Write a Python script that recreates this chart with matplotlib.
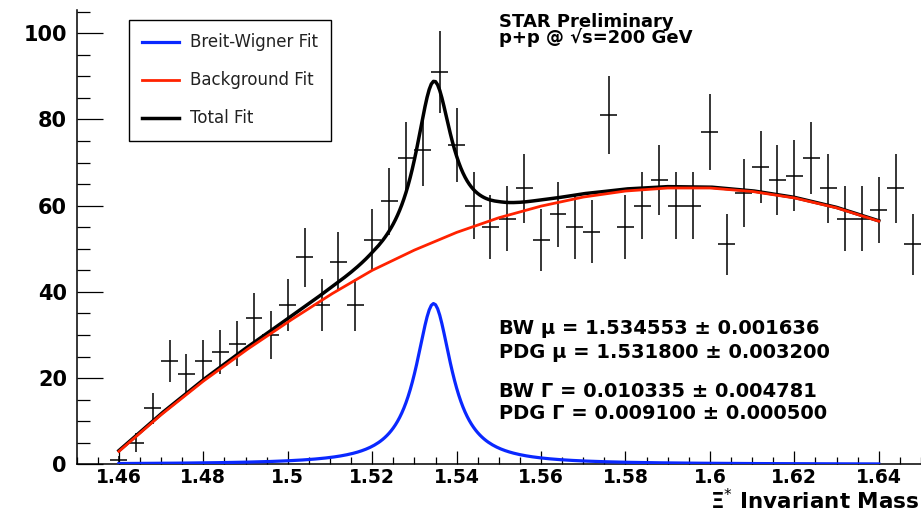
import numpy as np
import matplotlib
matplotlib.use("Agg")
import matplotlib.pyplot as plt
from matplotlib.ticker import MultipleLocator, FormatStrFormatter

plt.rcParams['font.family'] = ['DejaVu Sans']
plt.rcParams['mathtext.fontset'] = 'dejavusans'

# --- data: Xi* candidates per 4 MeV bin ---
mass = [1.460, 1.464, 1.468, 1.472, 1.476, 1.480, 1.484, 1.488, 1.492, 1.496,
        1.500, 1.504, 1.508, 1.512, 1.516, 1.520, 1.524, 1.528, 1.532, 1.536,
        1.540, 1.544, 1.548, 1.552, 1.556, 1.560, 1.564, 1.568, 1.572, 1.576,
        1.580, 1.584, 1.588, 1.592, 1.596, 1.600, 1.604, 1.608, 1.612, 1.616,
        1.620, 1.624, 1.628, 1.632, 1.636, 1.640, 1.644, 1.648]
counts = [1, 5, 13, 24, 21, 24, 26, 28, 34, 30,
          37, 48, 37, 47, 37, 52, 61, 71, 73, 91,
          74, 60, 55, 57, 64, 52, 58, 55, 54, 81,
          55, 60, 66, 60, 60, 77, 51, 63, 69, 66,
          67, 71, 64, 57, 57, 59, 64, 51]
count_err = [1.0, 2.2, 3.6, 4.9, 4.6, 4.9, 5.1, 5.3, 5.8, 5.5,
             6.1, 6.9, 6.1, 6.9, 6.1, 7.2, 7.8, 8.4, 8.5, 9.5,
             8.6, 7.7, 7.4, 7.5, 8.0, 7.2, 7.6, 7.4, 7.3, 9.0,
             7.4, 7.7, 8.1, 7.7, 7.7, 8.8, 7.1, 7.9, 8.3, 8.1,
             8.2, 8.4, 8.0, 7.5, 7.5, 7.7, 8.0, 7.1]
bin_half = 0.002

# background fit
bg_mass = [1.46, 1.47, 1.48, 1.49, 1.50, 1.51, 1.52, 1.53, 1.54, 1.55,
           1.56, 1.57, 1.58, 1.59, 1.60, 1.61, 1.62, 1.63, 1.64]
bg_vals = [3.0, 11.5, 19.3, 26.4, 33.0, 39.3, 45.0, 49.7, 53.8, 57.2,
           59.9, 62.0, 63.4, 64.1, 64.1, 63.3, 61.8, 59.5, 56.4]

# Breit-Wigner fit parameters
bw_mu = 1.534553
bw_gamma = 0.010335
bw_peak = 37.3

fit_x = np.linspace(1.46, 1.64, 361)
bg_fit = np.interp(fit_x, bg_mass, bg_vals)
half = bw_gamma / 2
bw_fit = bw_peak * half**2 / ((fit_x - bw_mu)**2 + half**2)
total_fit = bg_fit + bw_fit

# --- figure ---
W, H = 921, 512
fig = plt.figure(figsize=(W / 100, H / 100), dpi=100)
ax = fig.add_axes([76.7 / W, (H - 464.3) / H, 1 - 76.7 / W, (464.3 - 10) / H])

ax.errorbar(mass, counts, yerr=count_err, xerr=bin_half, fmt='none',
            ecolor='black', elinewidth=1.1, capsize=0, zorder=2)

l_bw, = ax.plot(fit_x, bw_fit, color='#0a28ff', lw=2.3, zorder=3,
                label='Breit-Wigner Fit')
l_tot, = ax.plot(fit_x, total_fit, color='black', lw=2.5, zorder=3,
                 label='Total Fit')
l_bg, = ax.plot(fit_x, bg_fit, color='#ff2200', lw=2.0, zorder=4,
                label='Background Fit')

ax.set_xlim(1.45, 1.65)
ax.set_ylim(0, 105.4)

ax.spines['top'].set_visible(False)
ax.spines['right'].set_visible(False)
ax.spines['left'].set_linewidth(1.1)
ax.spines['bottom'].set_linewidth(1.1)

ax.xaxis.set_major_locator(MultipleLocator(0.02))
ax.xaxis.set_minor_locator(MultipleLocator(0.005))
ax.xaxis.set_major_formatter(FormatStrFormatter('%g'))
ax.yaxis.set_major_locator(MultipleLocator(20))
ax.yaxis.set_minor_locator(MultipleLocator(5))

ax.tick_params(axis='x', which='major', direction='in', length=9.5, width=0.9, pad=3)
ax.tick_params(axis='x', which='minor', direction='in', length=5, width=0.9)
ax.tick_params(axis='y', which='major', direction='in', length=18.5, width=0.9, pad=7)
ax.tick_params(axis='y', which='minor', direction='in', length=9.5, width=0.9)
for lab in ax.get_xticklabels():
    lab.set_fontsize(13.5)
    lab.set_fontweight('bold')
for lab in ax.get_yticklabels():
    lab.set_fontsize(15)
    lab.set_fontweight('bold')

leg = ax.legend(handles=[l_bw, l_bg, l_tot], loc='upper left',
                bbox_to_anchor=(129 / W, 1 - 20 / H), bbox_transform=fig.transFigure,
                borderaxespad=0, fontsize=12, frameon=True, fancybox=False,
                edgecolor='black', framealpha=1, borderpad=0.8,
                handlelength=2.2, handletextpad=0.63, labelspacing=1.2)
leg.get_frame().set_linewidth(1.0)
for t in leg.get_texts():
    t.set_color('#222222')

fig.text(499 / W, 1 - 43 / H, 'STAR Preliminary\np+p @ √s=200 GeV', fontsize=13,
         fontweight='bold', va='baseline', linespacing=0.82)

stats = [('BW μ = 1.534553 ± 0.001636', 334),
         ('PDG μ = 1.531800 ± 0.003200', 357.7),
         ('BW Γ = 0.010335 ± 0.004781', 396.7),
         ('PDG Γ = 0.009100 ± 0.000500', 419.3)]
for txt, yb in stats:
    fig.text(499 / W, 1 - yb / H, txt, fontsize=14, fontweight='bold', va='baseline')

fig.text(0.998, 1 - 509 / H, r'Ξ$^{*}$ Invariant Mass', fontsize=15.5,
         fontweight='bold', ha='right', va='baseline')

fig.savefig('out.png', dpi=100)
